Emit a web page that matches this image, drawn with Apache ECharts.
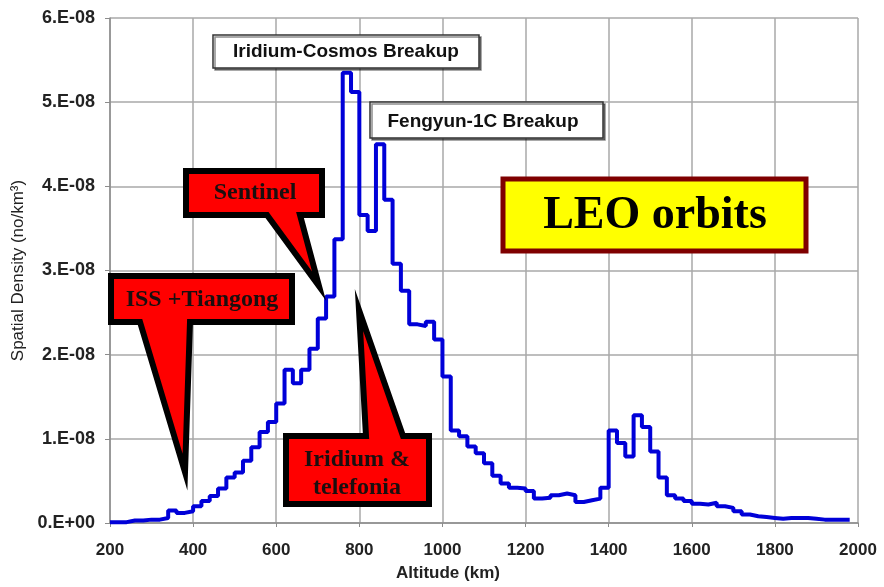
<!DOCTYPE html>
<html>
<head>
<meta charset="utf-8">
<title>LEO orbits – spatial density</title>
<script src="https://cdn.jsdelivr.net/npm/echarts@6/dist/echarts.min.js"></script>
<style>
  html, body { margin: 0; padding: 0; background: #fff; }
  #chart { width: 884px; height: 587px; }
</style>
</head>
<body>
<div id="chart"></div>
<script>
// altitude bins (left edge, km), 20 km wide
const altitudeBins = [
  200, 220, 240, 260, 280, 300, 320, 340, 360, 380,
  400, 420, 440, 460, 480, 500, 520, 540, 560, 580,
  600, 620, 640, 660, 680, 700, 720, 740, 760, 780,
  800, 820, 840, 860, 880, 900, 920, 940, 960, 980,
  1000, 1020, 1040, 1060, 1080, 1100, 1120, 1140, 1160, 1180,
  1200, 1220, 1240, 1260, 1280, 1300, 1320, 1340, 1360, 1380,
  1400, 1420, 1440, 1460, 1480, 1500, 1520, 1540, 1560, 1580,
  1600, 1620, 1640, 1660, 1680, 1700, 1720, 1740, 1760, 1780,
  1800, 1820, 1840, 1860, 1880, 1900, 1920, 1940, 1960
];
const binEnd = 1980;

// spatial density per bin, in units of 1e-8 no/km^3
const densityE8 = [
  0.01, 0.01, 0.03, 0.03, 0.04, 0.04, 0.06, 0.15, 0.12, 0.14,
  0.20, 0.26, 0.32, 0.41, 0.54, 0.60, 0.74, 0.90, 1.08, 1.20,
  1.42, 1.82, 1.66, 1.82, 2.07, 2.43, 2.69, 3.37, 5.35, 5.12,
  3.66, 3.47, 4.50, 3.84, 3.08, 2.76, 2.36, 2.34, 2.39, 2.18,
  1.74, 1.10, 1.03, 0.91, 0.83, 0.71, 0.56, 0.47, 0.42, 0.41,
  0.38, 0.29, 0.30, 0.33, 0.35, 0.33, 0.25, 0.27, 0.29, 0.42,
  1.10, 0.95, 0.79, 1.28, 1.14, 0.85, 0.54, 0.33, 0.29, 0.26,
  0.23, 0.22, 0.24, 0.20, 0.18, 0.14, 0.10, 0.08, 0.07, 0.06,
  0.05, 0.06, 0.06, 0.06, 0.05, 0.04, 0.04, 0.04, 0.04
];

const xName = "Altitude (km)";
const yName = "Spatial Density (no/km\u00B3)";

const stepData = altitudeBins.map((a, i) => [a, densityE8[i] * 1e-8]);
stepData.push([binEnd, densityE8[densityE8.length - 1] * 1e-8]);

const formatDensity = (v) => {
  const n = Math.round(v / 1e-8);
  return n === 0 ? "0.E+00" : `${n}.E-08`;
};

const RED = "#ff0000";
const BORDER = "#000";
const CALLOUT_FONT = "bold 24px 'Liberation Serif', serif";

const callout = (points, lines, cx, cy) => [
  {
    type: "polygon",
    z: 100,
    shape: { points },
    style: { fill: RED, stroke: BORDER, lineWidth: 6, lineJoin: "miter", miterLimit: 20 },
  },
  {
    type: "text",
    z: 101,
    x: cx,
    y: cy,
    style: {
      text: lines,
      font: CALLOUT_FONT,
      fill: "#1a0f0f",
      align: "center",
      verticalAlign: "middle",
      lineHeight: 28,
    },
  },
];

const chart = echarts.init(document.getElementById("chart"), null, { renderer: "canvas" });

const option = {
  animation: false,
  backgroundColor: "#fff",
  grid: { left: 110, right: 26, top: 18, bottom: 64 },
  xAxis: {
    type: "value",
    min: 200,
    max: 2000,
    interval: 200,
    name: xName,
    nameLocation: "middle",
    nameGap: 42,
    nameTextStyle: {
      fontFamily: "Liberation Sans",
      fontWeight: "bold",
      fontSize: 17,
      color: "#222",
      padding: [0, 72, 0, 0],
    },
    axisLine: { show: true, lineStyle: { color: "#8c8c8c", width: 1.5 } },
    axisTick: { show: true, length: 4, lineStyle: { color: "#8c8c8c" } },
    axisLabel: {
      margin: 19,
      fontFamily: "Liberation Sans",
      fontWeight: "bold",
      fontSize: 17,
      color: "#222",
      formatter: (v) => String(v),
    },
    splitLine: { show: true, lineStyle: { color: "#a8a8a8", width: 1.5 } },
  },
  yAxis: {
    type: "value",
    min: 0,
    max: 6e-8,
    interval: 1e-8,
    name: yName,
    nameLocation: "middle",
    nameGap: 83,
    nameTextStyle: { fontFamily: "Liberation Sans", fontSize: 17, color: "#222" },
    axisLine: { show: true, lineStyle: { color: "#8c8c8c", width: 1.5 } },
    axisTick: { show: true, length: 5, lineStyle: { color: "#8c8c8c" } },
    axisLabel: {
      margin: 15,
      fontFamily: "Liberation Sans",
      fontWeight: "bold",
      fontSize: 18,
      color: "#222",
      formatter: formatDensity,
    },
    splitLine: { show: true, lineStyle: { color: "#a8a8a8", width: 1.5 } },
  },
  series: [
    {
      type: "line",
      step: "end",
      data: stepData,
      symbol: "none",
      lineStyle: { color: "#0000d8", width: 4 },
      z: 5,
    },
  ],
  graphic: [
    // breakup labels
    {
      type: "rect",
      z: 90,
      shape: { x: 213, y: 35, width: 266, height: 33 },
      style: { fill: "#fff", stroke: "#333", lineWidth: 1.5, shadowColor: "rgba(0,0,0,0.45)", shadowOffsetX: 2, shadowOffsetY: 2 },
    },
    {
      type: "text",
      z: 91,
      x: 346,
      y: 52,
      style: { text: "Iridium-Cosmos Breakup", font: "bold 19px 'Liberation Sans', sans-serif", fill: "#111", align: "center", verticalAlign: "middle" },
    },
    {
      type: "rect",
      z: 90,
      shape: { x: 370, y: 102, width: 233, height: 36 },
      style: { fill: "#fff", stroke: "#333", lineWidth: 1.5, shadowColor: "rgba(0,0,0,0.45)", shadowOffsetX: 2, shadowOffsetY: 2 },
    },
    {
      type: "text",
      z: 91,
      x: 483,
      y: 122,
      style: { text: "Fengyun-1C Breakup", font: "bold 19px 'Liberation Sans', sans-serif", fill: "#111", align: "center", verticalAlign: "middle" },
    },
    // LEO orbits title box
    {
      type: "rect",
      z: 90,
      shape: { x: 503, y: 179, width: 303, height: 72 },
      style: { fill: "#ffff00", stroke: "#7f0000", lineWidth: 5 },
    },
    {
      type: "text",
      z: 91,
      x: 655,
      y: 216,
      style: { text: "LEO orbits", font: "bold 46px 'Liberation Serif', serif", fill: "#000", align: "center", verticalAlign: "middle" },
    },
    // red callouts
    ...callout(
      [[186, 171], [322, 171], [322, 215], [300, 215], [319, 286], [267, 215], [186, 215]],
      "Sentinel", 255, 193
    ),
    ...callout(
      [[111, 276], [292, 276], [292, 322], [190, 322], [185, 472], [140, 322], [111, 322]],
      "ISS +Tiangong", 202, 300
    ),
    ...callout(
      [[286, 436], [366, 436], [359, 310], [403, 436], [429, 436], [429, 504], [286, 504]],
      "Iridium &\ntelefonia", 357, 474
    ),
  ],
};

chart.setOption(option);

window.addEventListener("resize", () => chart.resize());
</script>
</body>
</html>
